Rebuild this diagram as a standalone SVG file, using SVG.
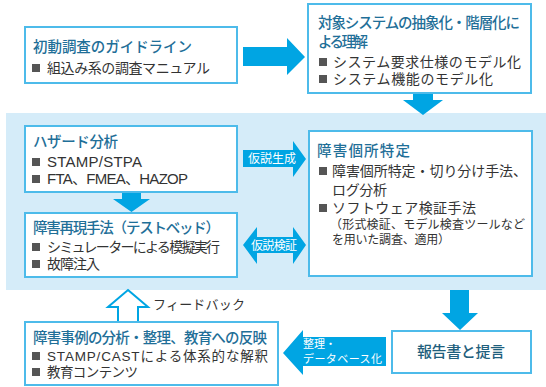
<svg xmlns="http://www.w3.org/2000/svg" width="546" height="387" viewBox="0 0 546 387">
<style>
text{font-family:"Liberation Sans","Noto Sans CJK JP",sans-serif;}
.box{fill:#ffffff;stroke:#4dbbea;stroke-width:2;}
.ttl{font-size:14.5px;fill:#1f6f98;font-weight:500;}
.txt{font-size:14px;fill:#333333;}
.sm{font-size:12px;fill:#333333;}
.bul{fill:#555555;}
.arr{fill:#00a5e3;}
.lbl{font-size:12px;fill:#ffffff;}
.lbl2{font-size:11px;fill:#ffffff;}
</style>
<rect x="6" y="113" width="540" height="177" fill="#d5ecf9"/>
<g id="connectors">
<polygon class="arr" points="243,47 287,47 287,38 305,57 287,75 287,66 243,66"/>
<polygon class="arr" points="413,93 433,93 433,100 443,100 423,115 403,100 413,100"/>
<polygon class="arr" points="122,192 141,192 141,199 150,199 131.5,212 113,199 122,199"/>
<polygon class="arr" points="243,150 293,150 293,141 306,159 293,177 293,167 243,167"/>
<text class="lbl" x="248" y="163" textLength="48">仮説生成</text>
<polygon class="arr" points="243,245 257,227 257,237 293,237 293,227 306,245 293,264 293,253 257,253 257,264"/>
<text class="lbl" x="251" y="250" textLength="46">仮説検証</text>
<polygon class="arr" points="450,290 469,290 469,313 478,313 460,330 442,313 450,313"/>
<polygon class="arr" points="283,353 303,330 303,337 386,337 386,366 303,366 303,375"/>
<text class="lbl2" x="303" y="348">整理・</text>
<text class="lbl2" x="303" y="363" textLength="79">データベース化</text>
<polygon points="128,290 148,307 138,307 138,322 118,322 118,307 108,307" fill="#ffffff" stroke="#00a5e3" stroke-width="2"/>
<text x="153" y="309" textLength="92" style="font-size:13px;fill:#333333">フィードバック</text>
</g>
<g id="box1">
<rect class="box" x="25" y="27" width="212" height="56"/>
<text class="ttl" x="33" y="52" textLength="159">初動調査のガイドライン</text>
<rect class="bul" x="32" y="64" width="8" height="8"/>
<text class="txt" x="47" y="73" textLength="163">組込み系の調査マニュアル</text>
</g>
<g id="box2">
<rect class="box" x="308" y="4" width="223" height="89"/>
<text class="ttl" x="318" y="28" textLength="202">対象システムの抽象化・階層化に</text>
<text class="ttl" x="318" y="47" textLength="50">よる理解</text>
<rect class="bul" x="319" y="58" width="8" height="8"/>
<text class="txt" x="333" y="67" textLength="188">システム要求仕様のモデル化</text>
<rect class="bul" x="319" y="75" width="8" height="8"/>
<text class="txt" x="333" y="84" textLength="160">システム機能のモデル化</text>
</g>
<g id="box3">
<rect class="box" x="25" y="126" width="212" height="66"/>
<text class="ttl" x="33" y="147" textLength="85">ハザード分析</text>
<rect class="bul" x="32" y="158" width="8" height="8"/>
<text class="txt" x="47" y="167" textLength="95" style="font-size:15px">STAMP/STPA</text>
<rect class="bul" x="32" y="175" width="8" height="8"/>
<text class="txt" x="47" y="184" textLength="141" style="font-size:15px">FTA、FMEA、HAZOP</text>
</g>
<g id="box4">
<rect class="box" x="25" y="213" width="212" height="64"/>
<text class="ttl" x="33" y="233" textLength="187">障害再現手法（テストベッド）</text>
<rect class="bul" x="32" y="243" width="8" height="8"/>
<text class="txt" x="47" y="252" textLength="173">シミュレーターによる模擬実行</text>
<rect class="bul" x="32" y="260" width="8" height="8"/>
<text class="txt" x="47" y="269" textLength="53">故障注入</text>
</g>
<g id="box5">
<rect class="box" x="309" y="131" width="223" height="145"/>
<text class="ttl" x="317" y="156" textLength="93">障害個所特定</text>
<rect class="bul" x="319" y="167" width="8" height="8"/>
<text class="txt" x="332" y="176" textLength="195">障害個所特定・切り分け手法、</text>
<text class="txt" x="332" y="195" textLength="55">ログ分析</text>
<rect class="bul" x="319" y="204" width="8" height="8"/>
<text class="txt" x="332" y="213" textLength="144">ソフトウェア検証手法</text>
<text class="sm" x="330" y="229" textLength="195">（形式検証、モデル検査ツールなど</text>
<text class="sm" x="332" y="244" textLength="118">を用いた調査、適用）</text>
</g>
<g id="box6">
<rect class="box" x="25" y="322" width="253" height="63"/>
<text class="ttl" x="33" y="343" textLength="234">障害事例の分析・整理、教育への反映</text>
<rect class="bul" x="32" y="352" width="8" height="8"/>
<text class="txt" x="47" y="361" textLength="221" style="font-size:13.5px">STAMP/CASTによる体系的な解釈</text>
<rect class="bul" x="32" y="368" width="8" height="8"/>
<text class="txt" x="47" y="377" textLength="91" style="font-size:13.5px">教育コンテンツ</text>
</g>
<g id="box7">
<rect class="box" x="392" y="331" width="139" height="42"/>
<text x="417" y="357" textLength="88" style="font-size:15px;fill:#1f5f7d;font-weight:500">報告書と提言</text>
</g>
</svg>
